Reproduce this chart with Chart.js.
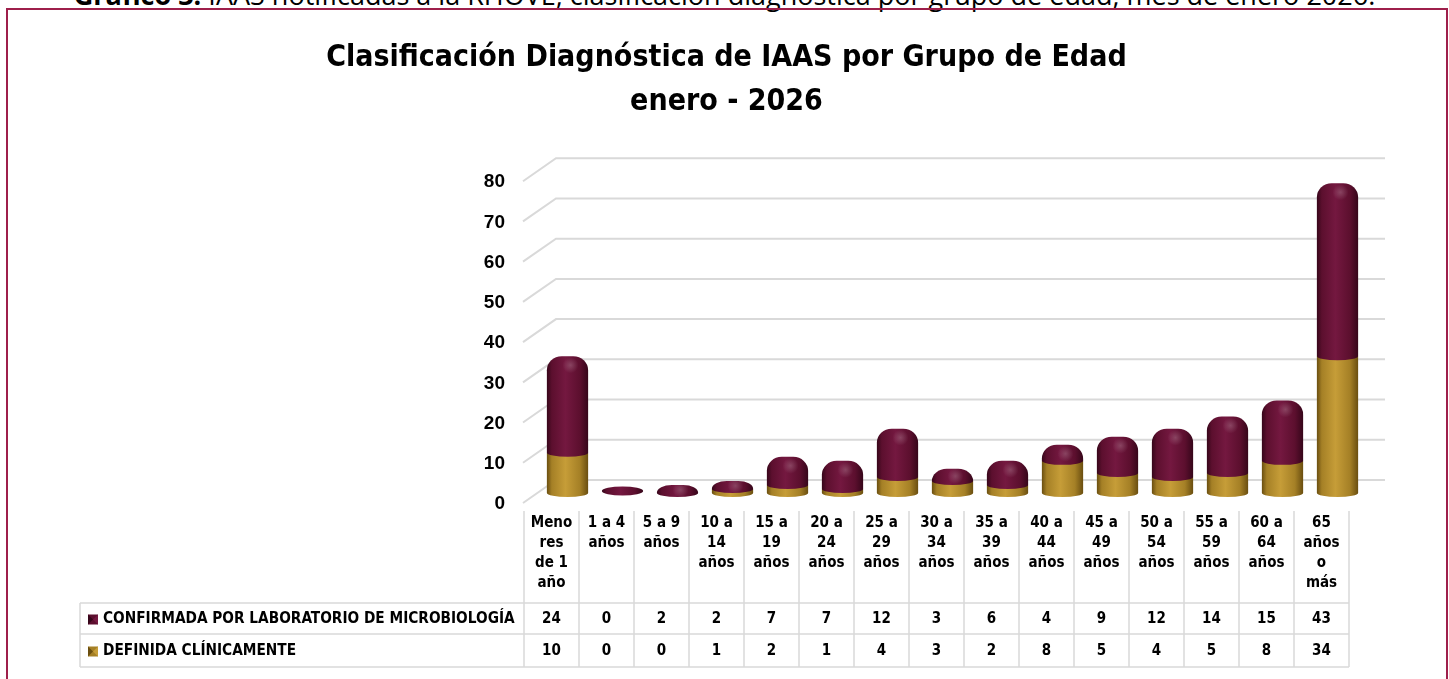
<!DOCTYPE html>
<html>
<head>
<meta charset="utf-8">
<script src="https://cdn.jsdelivr.net/npm/chart.js@4.4.1/dist/chart.umd.min.js"></script>
<style>
  html, body { margin: 0; padding: 0; background: #fff; overflow: hidden; }
  #wrap { position: relative; width: 1449px; height: 679px; }
  #caption {
    position: absolute; left: 0; top: -19px; width: 1449px;
    text-align: center; white-space: nowrap;
    font: 27px/27px 'Open Sans', sans-serif; color: #000;
  }
  #frame {
    position: absolute; left: 6px; top: 8px; width: 1442px; height: 700px;
    border: 2px solid #9e1f4b; box-sizing: border-box; pointer-events: none;
  }
  canvas { position: absolute; left: 0; top: 0; }
</style>
</head>
<body>
<div id="wrap">
  <div id="caption"><b>Gráfico 3.</b> IAAS notificadas a la RHOVE, clasificación diagnóstica por grupo de edad, mes de enero 2026.</div>
  <canvas id="grafico" width="1449" height="679"></canvas>
  <div id="frame"></div>
</div>
<script>
// Datos
const categorias = [
  ['Meno', 'res', 'de 1', 'año'], ['1 a 4', 'años'], ['5 a 9', 'años'],
  ['10 a', '14', 'años'], ['15 a', '19', 'años'], ['20 a', '24', 'años'],
  ['25 a', '29', 'años'], ['30 a', '34', 'años'], ['35 a', '39', 'años'],
  ['40 a', '44', 'años'], ['45 a', '49', 'años'], ['50 a', '54', 'años'],
  ['55 a', '59', 'años'], ['60 a', '64', 'años'], ['65', 'años', 'o', 'más']
];
const confirmada = [24, 0, 2, 2, 7, 7, 12, 3, 6, 4, 9, 12, 14, 15, 43];
const definida = [10, 0, 0, 1, 2, 1, 4, 3, 2, 8, 5, 4, 5, 8, 34];
const nombreConfirmada = 'CONFIRMADA POR LABORATORIO DE MICROBIOLOGÍA';
const nombreDefinida = 'DEFINIDA CLÍNICAMENTE';
const titulo = ['Clasificación Diagnóstica de IAAS por Grupo de Edad', 'enero - 2026'];

const fuenteAngosta = "'Liberation Sans Narrow', 'DejaVu Sans Condensed', 'Roboto', sans-serif";
const colorGranate = { oscuro: '#36061a', claro: '#741840', medio: '#5c0f2e' };
const colorDorado = { oscuro: '#6a4e10', claro: '#c69d38', medio: '#a58026' };
const colorRejilla = '#d9d9d9';

// desplazamiento de la perspectiva 3D
const PROF_X = 16, PROF_Y = 12;

// Rejilla en perspectiva (pared del fondo + diagonales)
const rejilla3d = {
  id: 'rejilla3d',
  beforeDatasetsDraw(chart) {
    const { ctx, chartArea, scales } = chart;
    ctx.save();
    ctx.strokeStyle = colorRejilla;
    ctx.lineWidth = 2;
    scales.y.ticks.forEach(t => {
      const y = scales.y.getPixelForValue(t.value);
      ctx.beginPath();
      ctx.moveTo(chartArea.left - PROF_X - 1, y + PROF_Y - 2);
      ctx.lineTo(chartArea.left + PROF_X, y - PROF_Y - 1);
      ctx.lineTo(chartArea.right + 20, y - PROF_Y - 1);
      ctx.stroke();
    });
    ctx.restore();
  }
};

function gradiente(ctx, x0, x1, c) {
  const g = ctx.createLinearGradient(x0, 0, x1, 0);
  g.addColorStop(0, c.oscuro);
  g.addColorStop(0.12, c.medio);
  g.addColorStop(0.45, c.claro);
  g.addColorStop(0.8, c.medio);
  g.addColorStop(1, c.oscuro);
  return g;
}

function segmento(ctx, cx, w, yTop, yBase, c, conTapa) {
  const rx = w / 2, ry = 4;
  const x0 = cx - rx, x1 = cx + rx;
  const h = yBase - yTop;
  ctx.beginPath();
  ctx.moveTo(x0, yBase);
  ctx.ellipse(cx, yBase, rx, ry, 0, Math.PI, 0, true);
  if (conTapa) {
    const rxc = w * 0.36, ryc = Math.min(14, Math.max(h, 5));
    ctx.lineTo(x1, yTop + ryc);
    ctx.ellipse(x1 - rxc, yTop + ryc, rxc, ryc, 0, 0, -Math.PI / 2, true);
    ctx.lineTo(x0 + rxc, yTop);
    ctx.ellipse(x0 + rxc, yTop + ryc, rxc, ryc, 0, -Math.PI / 2, -Math.PI, true);
  } else {
    ctx.lineTo(x1, yTop);
    ctx.lineTo(x0, yTop);
  }
  ctx.closePath();
  ctx.fillStyle = gradiente(ctx, x0, x1, c);
  ctx.fill();
  if (conTapa) {
    const hx = cx + 3, hy = yTop + Math.min(9, h * 0.6);
    const rg = ctx.createRadialGradient(hx, hy, 0, hx, hy, 8);
    rg.addColorStop(0, 'rgba(255,255,255,0.2)');
    rg.addColorStop(1, 'rgba(255,255,255,0)');
    ctx.fillStyle = rg;
    ctx.fill();
  }
}

// Cilindros apilados
const cilindros = {
  id: 'cilindros',
  afterDatasetsDraw(chart) {
    const { ctx } = chart;
    const metaDef = chart.getDatasetMeta(0);
    const metaConf = chart.getDatasetMeta(1);
    ctx.save();
    categorias.forEach((_, i) => {
      const bd = metaDef.data[i], bc = metaConf.data[i];
      const w = bd.width;
      const cx = bd.x;
      if (definida[i] === 0 && confirmada[i] === 0) {
        ctx.beginPath();
        ctx.ellipse(cx, bd.base - 2, w / 2, 4.5, 0, 0, Math.PI * 2);
        ctx.fillStyle = gradiente(ctx, cx - w / 2, cx + w / 2, colorGranate);
        ctx.fill();
        return;
      }
      if (definida[i] > 0) segmento(ctx, cx, w, bd.y, bd.base, colorDorado, confirmada[i] === 0);
      if (confirmada[i] > 0) segmento(ctx, cx, w, bc.y, bc.base, colorGranate, true);
    });
    ctx.restore();
  }
};

function marcador(ctx, x, y, s, c) {
  ctx.fillStyle = c.medio;
  ctx.fillRect(x, y, s, s);
  ctx.fillStyle = c.oscuro;
  ctx.beginPath();
  ctx.moveTo(x, y); ctx.lineTo(x + s / 2, y + s / 2); ctx.lineTo(x, y + s); ctx.closePath(); ctx.fill();
  ctx.fillStyle = c.claro;
  ctx.beginPath();
  ctx.moveTo(x + s, y); ctx.lineTo(x + s / 2, y + s / 2); ctx.lineTo(x + s, y + s); ctx.closePath(); ctx.fill();
}

// Tabla de datos bajo el gráfico
const tablaDatos = {
  id: 'tablaDatos',
  afterDraw(chart) {
    const { ctx, scales } = chart;
    const x = scales.x;
    const anchoCol = x.getPixelForValue(1) - x.getPixelForValue(0);
    const izq = x.getPixelForValue(0) - PROF_X - anchoCol / 2;
    const der = izq + anchoCol * categorias.length;
    const tablaIzq = 80;
    const yCab = 511, yF1 = 603, yF2 = 634, yF3 = 667;
    ctx.save();
    ctx.strokeStyle = colorRejilla;
    ctx.lineWidth = 1.5;
    ctx.beginPath();
    for (let k = 0; k <= categorias.length; k++) {
      const xx = izq + k * anchoCol;
      ctx.moveTo(xx, yCab); ctx.lineTo(xx, yF3);
    }
    ctx.moveTo(tablaIzq, yF1); ctx.lineTo(tablaIzq, yF3);
    [yF1, yF2, yF3].forEach(yy => { ctx.moveTo(tablaIzq, yy); ctx.lineTo(der, yy); });
    ctx.stroke();

    ctx.fillStyle = '#000';
    ctx.textAlign = 'center';
    ctx.textBaseline = 'middle';
    ctx.font = 'bold 15px ' + fuenteAngosta;
    categorias.forEach((lineas, i) => {
      const cx = x.getPixelForValue(i) - PROF_X;
      lineas.forEach((l, j) => ctx.fillText(l, cx, 523 + j * 20));
      ctx.fillText(String(confirmada[i]), cx, (yF1 + yF2) / 2 + 1);
      ctx.fillText(String(definida[i]), cx, (yF2 + yF3) / 2 + 1);
    });

    ctx.textAlign = 'left';
    let tam = 16.5;
    ctx.font = 'bold ' + tam + 'px ' + fuenteAngosta;
    while (ctx.measureText(nombreConfirmada).width > 415 && tam > 10) {
      tam -= 0.25;
      ctx.font = 'bold ' + tam + 'px ' + fuenteAngosta;
    }
    ctx.fillText(nombreConfirmada, 103, (yF1 + yF2) / 2 + 1);
    ctx.fillText(nombreDefinida, 103, (yF2 + yF3) / 2 + 1);
    marcador(ctx, 88, (yF1 + yF2) / 2 - 4, 10, colorGranate);
    marcador(ctx, 88, (yF2 + yF3) / 2 - 4, 10, colorDorado);
    ctx.restore();
  }
};

new Chart(document.getElementById('grafico'), {
  type: 'bar',
  data: {
    labels: categorias,
    datasets: [
      { label: nombreDefinida, data: definida, backgroundColor: 'rgba(0,0,0,0)', borderWidth: 0 },
      { label: nombreConfirmada, data: confirmada, backgroundColor: 'rgba(0,0,0,0)', borderWidth: 0 }
    ]
  },
  options: {
    responsive: false,
    animation: false,
    barPercentage: 0.75,
    categoryPercentage: 1,
    layout: { padding: { left: 88, right: 84, top: 12, bottom: 186 } },
    plugins: {
      legend: { display: false },
      tooltip: { enabled: false },
      title: {
        display: true,
        text: titulo,
        color: '#000',
        font: { family: fuenteAngosta, size: 30, weight: 'bold', lineHeight: 1.47 },
        padding: { top: 24, bottom: 47 }
      }
    },
    scales: {
      x: { stacked: true, display: false },
      y: {
        stacked: true,
        min: 0,
        max: 80,
        afterFit(s) { s.width = 452; },
        grid: { display: false, drawTicks: false },
        border: { display: false },
        ticks: {
          stepSize: 10,
          labelOffset: 11,
          padding: 35,
          color: '#000',
          font: { family: "'Liberation Sans', Arial, sans-serif", size: 19, weight: 'bold' }
        }
      }
    }
  },
  plugins: [rejilla3d, cilindros, tablaDatos]
});
</script>
</body>
</html>
